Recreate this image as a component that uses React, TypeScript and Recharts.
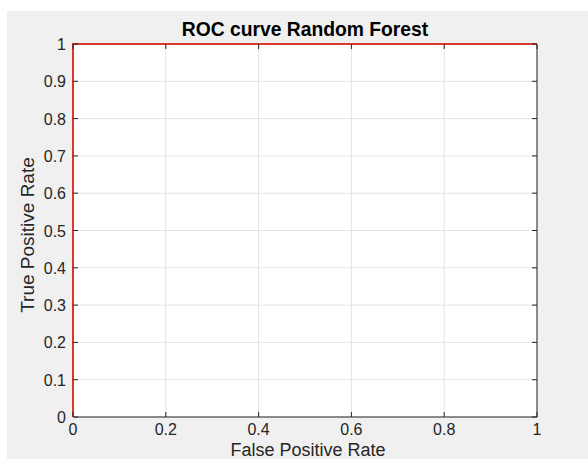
import React from 'react';
import { LineChart, Line, XAxis, YAxis, CartesianGrid } from 'recharts';

// ROC points (false positive rate, true positive rate)
const fpr = [0, 0, 1];
const tpr = [0, 1, 1];
const xTicks = [0, 0.2, 0.4, 0.6, 0.8, 1];
const yTicks = [0, 0.1, 0.2, 0.3, 0.4, 0.5, 0.6, 0.7, 0.8, 0.9, 1];

const title = 'ROC curve Random Forest';
const xLabel = 'False Positive Rate';
const yLabel = 'True Positive Rate';

const W = 581;
const H = 448;
const margin = { top: 33, right: 51, bottom: 0, left: 0 };
const X_AXIS_H = 42;
const Y_AXIS_W = 66;
const plotLeft = Y_AXIS_W;
const plotTop = margin.top;
const plotRight = W - margin.right;
const plotBottom = H - X_AXIS_H;

const FONT = '"Liberation Sans", Arial, Helvetica, sans-serif';
const TICK_COLOR = '#262626';

const data = fpr.map((x, i) => ({ x, y: tpr[i] }));

function XTick(props: any) {
  const { x, payload } = props;
  const y = plotBottom;
  return (
    <g>
      <line x1={x} y1={y} x2={x} y2={y - 5} stroke={TICK_COLOR} />
      <line x1={x} y1={plotTop} x2={x} y2={plotTop + 5} stroke={TICK_COLOR} />
      <text
        x={x}
        y={y + 18}
        textAnchor="middle"
        fontSize={16}
        fontFamily={FONT}
        fill={TICK_COLOR}
      >
        {String(payload.value)}
      </text>
    </g>
  );
}

function YTick(props: any) {
  const { y, payload } = props;
  const x = plotLeft;
  return (
    <g>
      <line x1={x} y1={y} x2={x + 5} y2={y} stroke={TICK_COLOR} />
      <line x1={plotRight} y1={y} x2={plotRight - 5} y2={y} stroke={TICK_COLOR} />
      <text
        x={x - 7}
        y={y + 6}
        textAnchor="end"
        fontSize={16}
        fontFamily={FONT}
        fill={TICK_COLOR}
      >
        {String(payload.value)}
      </text>
    </g>
  );
}

export default function App() {
  return (
    <div
      style={{
        position: 'absolute',
        left: 0,
        top: 0,
        width: 588,
        height: 459,
        background: '#ffffff',
        overflow: 'hidden',
      }}
    >
      <div
        style={{
          position: 'absolute',
          left: 7,
          top: 11,
          width: W,
          height: H,
          background: '#f0f0f0',
        }}
      >
        <LineChart width={W} height={H} data={data} margin={margin}>
          <CartesianGrid stroke="#e3e3e3" fill="#ffffff" />
          <XAxis
            dataKey="x"
            type="number"
            domain={[0, 1]}
            ticks={xTicks}
            interval={0}
            height={X_AXIS_H}
            tickSize={0}
            tickMargin={0}
            tickLine={false}
            axisLine={false}
            tick={XTick}
          />
          <YAxis
            type="number"
            domain={[0, 1]}
            ticks={yTicks}
            interval={0}
            width={Y_AXIS_W}
            tickSize={0}
            tickMargin={0}
            tickLine={false}
            axisLine={false}
            tick={YTick}
          />
          <Line
            type="linear"
            dataKey="y"
            stroke="#d8392b"
            strokeWidth={2}
            dot={false}
            isAnimationActive={false}
          />
        </LineChart>
        <svg
          width={W}
          height={H}
          style={{ position: 'absolute', left: 0, top: 0, pointerEvents: 'none', overflow: 'visible' }}
        >
          <line x1={plotLeft + 1} y1={plotBottom} x2={plotRight} y2={plotBottom} stroke={TICK_COLOR} />
          <line x1={plotRight} y1={plotTop + 1} x2={plotRight} y2={plotBottom} stroke={TICK_COLOR} />
          <text
            x={298}
            y={25}
            textAnchor="middle"
            fontSize={19.3}
            fontWeight="bold"
            fontFamily={FONT}
            fill="#000000"
          >
            {title}
          </text>
          <text
            x={301}
            y={444.5}
            textAnchor="middle"
            fontSize={18}
            fontFamily={FONT}
            fill={TICK_COLOR}
          >
            {xLabel}
          </text>
          <text
            x={26.5}
            y={224}
            textAnchor="middle"
            fontSize={19}
            fontFamily={FONT}
            fill={TICK_COLOR}
            transform="rotate(-90 26.5 224)"
          >
            {yLabel}
          </text>
        </svg>
      </div>
    </div>
  );
}
